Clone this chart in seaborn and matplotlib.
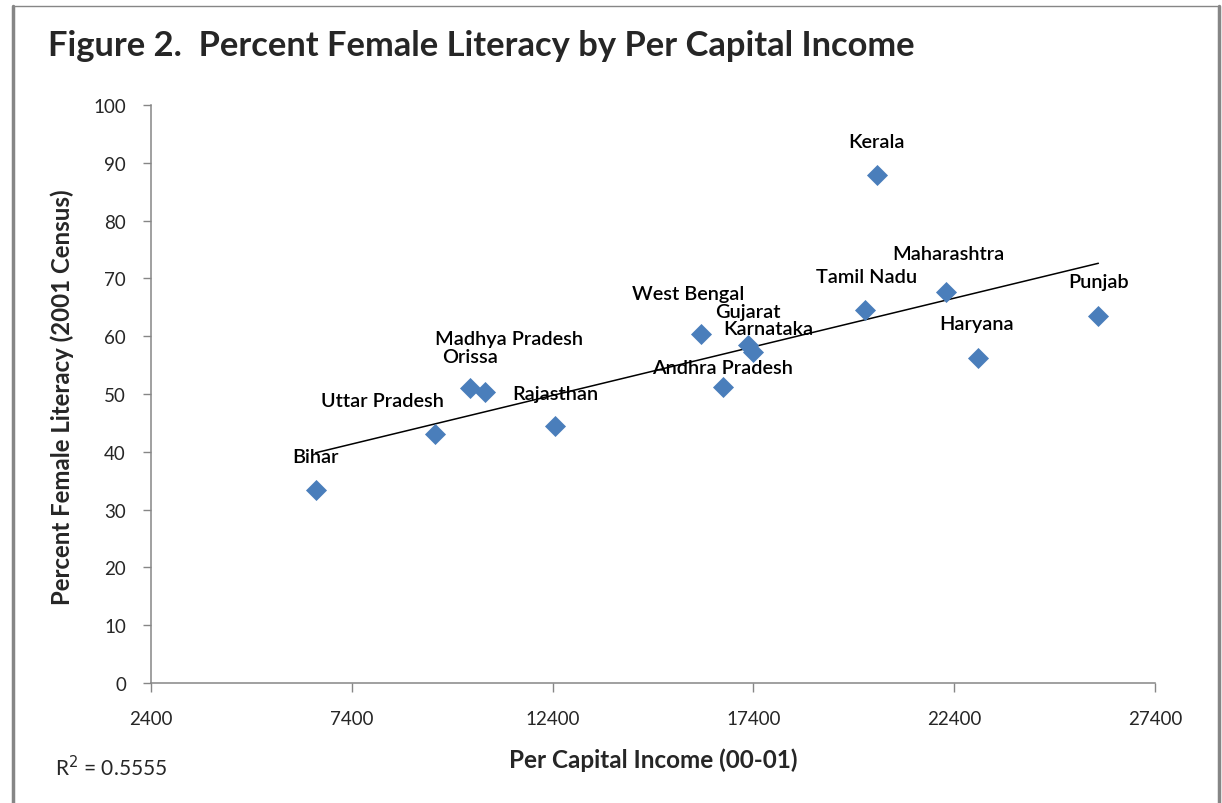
import matplotlib
matplotlib.use("Agg")
import matplotlib.pyplot as plt
from matplotlib.lines import Line2D
import numpy as np
import pandas as pd
import seaborn as sns

# data
states = ["Bihar", "Uttar Pradesh", "Orissa", "Madhya Pradesh", "Rajasthan",
          "West Bengal", "Andhra Pradesh", "Gujarat", "Karnataka", "Tamil Nadu",
          "Kerala", "Maharashtra", "Haryana", "Punjab"]
income = [6500, 9470, 10340, 10720, 12470,
          16090, 16640, 17260, 17400, 20190,
          20470, 22200, 22990, 25990]
literacy = [33.4, 43.0, 51.0, 50.3, 44.4,
            60.3, 51.2, 58.5, 57.3, 64.5,
            87.9, 67.7, 56.3, 63.5]
x_ticks = [2400, 7400, 12400, 17400, 22400, 27400]
y_ticks = [0, 10, 20, 30, 40, 50, 60, 70, 80, 90, 100]
r2_text = "R$^2$ = 0.5555"

# label placement (pixels from the point)
label_offsets = {"Bihar": (0, 33), "Uttar Pradesh": (-52, 34), "Orissa": (0, 32),
                 "Madhya Pradesh": (24, 54), "Rajasthan": (0, 33),
                 "West Bengal": (-13, 41), "Andhra Pradesh": (0, 20),
                 "Gujarat": (0, 33), "Karnataka": (15, 23), "Tamil Nadu": (1, 34),
                 "Kerala": (0, 33), "Maharashtra": (2, 38), "Haryana": (-1, 34),
                 "Punjab": (0, 34)}

df = pd.DataFrame({"state": states, "income": income, "literacy": literacy})

sns.set_style("white")
plt.rcParams['font.family'] = ['Lato', 'DejaVu Sans']

W, H = 1222, 804
fig = plt.figure(figsize=(W / 100, H / 100), dpi=100)
ax = fig.add_axes([151 / W, 1 - 684 / H, (1155 - 151) / W, (684 - 106) / H])

gray = "#868686"
sns.scatterplot(data=df, x="income", y="literacy", marker="D", s=115,
                color="#4A7EBB", edgecolor="#4A7EBB", linewidth=0, ax=ax, zorder=3)

# linear trend line
k, b = np.polyfit(df["income"], df["literacy"], 1)
xs = np.array([df["income"].min(), df["income"].max()])
ax.plot(xs, k * xs + b, color="black", lw=1.1, zorder=2)

for st, xv, yv in zip(states, income, literacy):
    dx, dy = label_offsets[st]
    ax.annotate(st, (xv, yv), xytext=(dx, dy), textcoords="offset pixels",
                ha="center", va="center", fontsize=14.3, fontweight="semibold",
                color="black", zorder=4)

ax.set_xlim(x_ticks[0], x_ticks[-1])
ax.set_ylim(y_ticks[0], y_ticks[-1])
ax.set_xticks(x_ticks)
ax.set_yticks(y_ticks)
ax.set_xlabel("")
ax.set_ylabel("")
for side in ["top", "right"]:
    ax.spines[side].set_visible(False)
for side in ["left", "bottom"]:
    ax.spines[side].set_color(gray)
    ax.spines[side].set_linewidth(1.1)
ax.tick_params(axis="x", direction="out", length=6.5, width=1, color=gray,
               pad=13, labelsize=13.5, bottom=True)
ax.tick_params(axis="y", direction="out", length=6, width=1, color=gray,
               pad=12, labelsize=13.5, left=True)

fig.text(48 / W, 1 - 46 / H, "Figure 2.  Percent Female Literacy by Per Capital Income",
         ha="left", va="center", fontsize=24.8, fontweight="bold")
fig.text(653 / W, 1 - 760 / H, "Per Capital Income (00-01)", ha="center", va="center",
         fontsize=17.5, fontweight="bold")
fig.text(62 / W, 1 - 397 / H, "Percent Female Literacy (2001 Census)", ha="center",
         va="center", rotation=90, fontsize=17.3, fontweight="bold")
fig.text(55 / W, 1 - 768 / H, r2_text, ha="left", va="center", fontsize=15)

# outer chart border
fig.add_artist(Line2D([12.5 / W, 12.5 / W], [0, 1 - 7 / H], color=gray, lw=2.5,
                      transform=fig.transFigure))
fig.add_artist(Line2D([1218.5 / W, 1218.5 / W], [0, 1 - 7 / H], color=gray, lw=2.5,
                      transform=fig.transFigure))
fig.add_artist(Line2D([12.5 / W, 1218.5 / W], [1 - 7 / H, 1 - 7 / H], color=gray, lw=1,
                      transform=fig.transFigure))

fig.savefig("out.png", dpi=100)
